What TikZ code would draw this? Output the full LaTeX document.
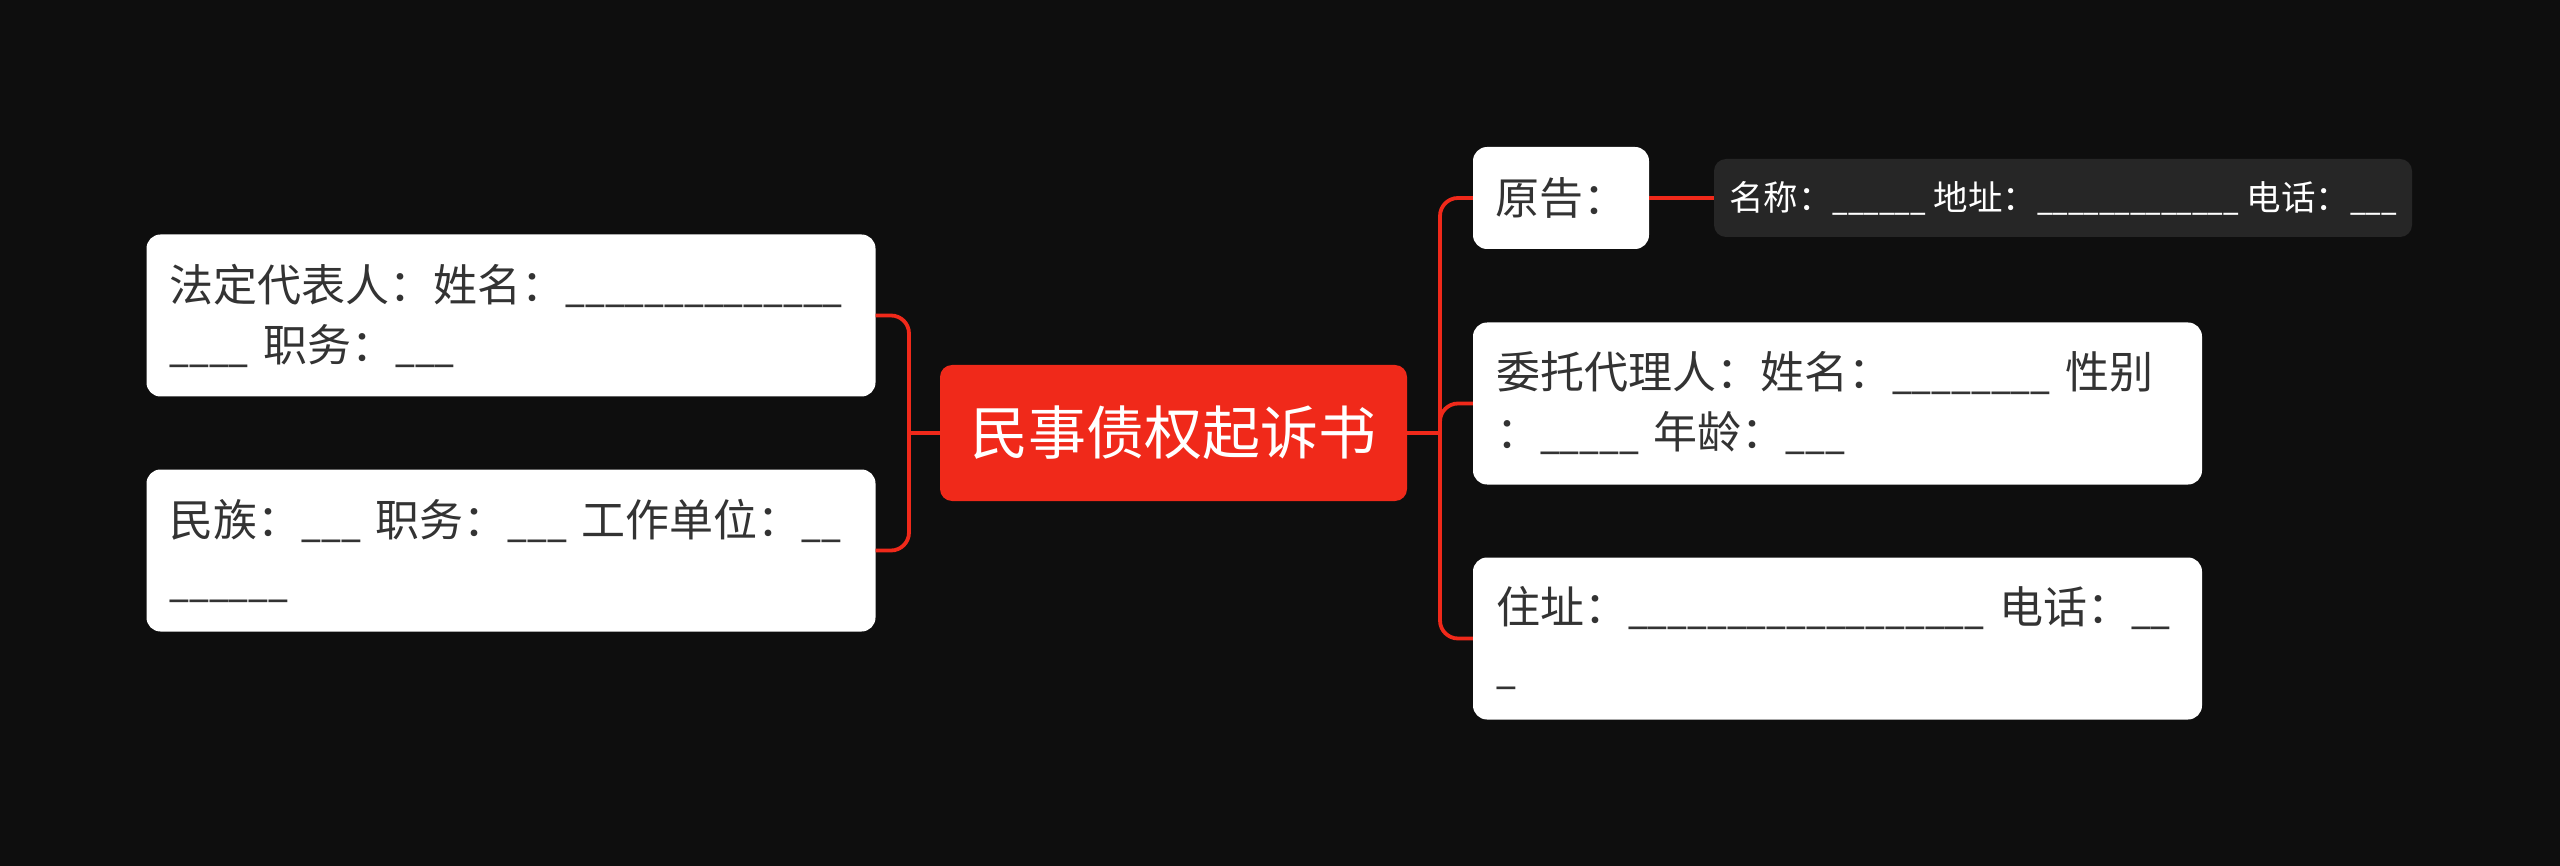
\documentclass[tikz,border=0pt]{standalone}
\usepackage{fontspec}
\setmainfont{Noto Sans CJK SC}
\newfontfamily\usfont[FakeStretch=0.805]{Noto Sans CJK SC}
\newcommand\blk[1]{{\usfont\foreach\k in {1,...,#1}{\_}}}
\definecolor{bgc}{RGB}{14,14,14}
\definecolor{redc}{RGB}{240,41,26}
\definecolor{darkc}{RGB}{38,38,38}
\definecolor{txtc}{RGB}{51,51,51}
\begin{document}
\begin{tikzpicture}[x=1pt,y=-1pt,
  rootbox/.style={fill=redc, rounded corners=12pt, text=white, inner sep=0pt,
    minimum width=467pt, minimum height=136pt, font=\fontsize{58}{70}\selectfont},
  leafbox/.style={fill=white, rounded corners=14pt, text=txtc, align=left,
    inner xsep=23pt, inner ysep=0pt, text width=683pt, minimum height=162pt,
    font=\fontsize{44}{60}\selectfont},
  smallbox/.style={fill=white, rounded corners=14pt, text=txtc, inner sep=0pt,
    minimum width=176pt, minimum height=102pt, font=\fontsize{44}{60}\selectfont},
  darkbox/.style={fill=darkc, rounded corners=12pt, text=white, inner sep=0pt,
    minimum width=698pt, minimum height=78pt, font=\fontsize{34.5}{44}\selectfont},
  conn/.style={draw=redc, line width=3.8pt},
  branchline/.style={conn, rounded corners=18pt}]
\fill[bgc] (0,0) rectangle (2560,866);
\useasboundingbox (0,0) rectangle (2560,866);

\node[rootbox] (c) at (1173.5,433) {民事债权起诉书};

\node[leafbox] (b1) at (511,315.5) {\mbox{法定代表人：姓名：\blk{14}}\\\mbox{\blk{4} 职务：\blk{3}}};
\node[leafbox] (b2) at (511,550.5) {\mbox{民族：\blk{3} 职务：\blk{3} 工作单位：\blk{2}}\\\mbox{\blk{6}}};

\node[smallbox] (p) at (1561,198) {原告：};
\node[darkbox] (d) at (2063,198) {名称：\blk{6} 地址：\blk{13} 电话：\blk{3}};
\node[leafbox] (a1) at (1837.5,403.5) {\mbox{委托代理人：姓名：\blk{8} 性别}\\\mbox{：\blk{5} 年龄：\blk{3}}};
\node[leafbox] (a2) at (1837.5,638.5) {\mbox{住址：\blk{18} 电话：\blk{2}}\\\mbox{\blk{1}}};

\coordinate (jl) at (909,433);
\coordinate (jr) at (1440,433);

\draw[conn] (c.west) -- (jl);
\draw[branchline] (jl) |- (b1.east);
\draw[branchline] (jl) |- (b2.east);

\draw[conn] (c.east) -- (jr);
\draw[branchline] (jr) |- (p.west);
\draw[branchline] (jr) |- (a1.west);
\draw[branchline] (jr) |- (a2.west);
\draw[conn] (p.east) -- (d.west);
\end{tikzpicture}
\end{document}
